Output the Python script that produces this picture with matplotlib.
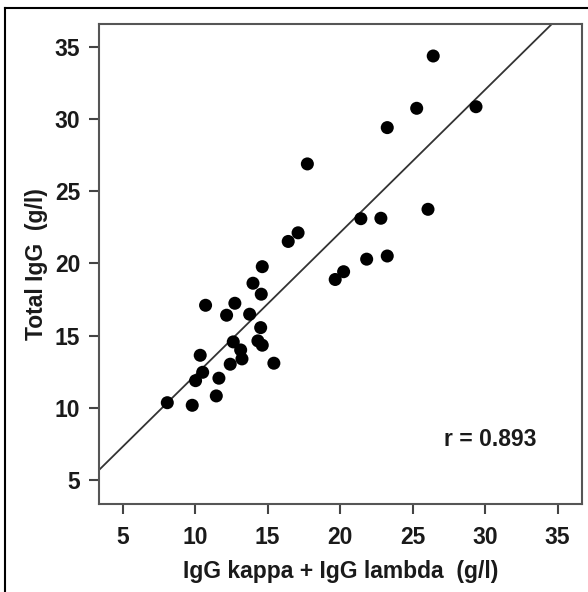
import matplotlib
matplotlib.use("Agg")
import matplotlib.pyplot as plt
from matplotlib.lines import Line2D

plt.rcParams['font.family'] = ['Liberation Sans', 'DejaVu Sans']

# data
kappa_lambda = [26.42, 25.28, 29.37, 23.25, 17.74, 21.43, 22.81, 26.06, 17.10, 16.42,
                20.24, 19.66, 21.83, 23.25, 14.63, 13.99, 14.56, 10.72, 12.74, 12.17,
                13.76, 14.52, 12.63, 14.33, 14.63, 13.14, 13.23, 12.42, 10.35, 15.43,
                10.52, 10.03, 11.64, 11.46, 8.08, 9.80]
total_igg = [34.40, 30.77, 30.88, 29.43, 26.91, 23.11, 23.14, 23.76, 22.13, 21.53,
             19.43, 18.89, 20.30, 20.52, 19.78, 18.63, 17.87, 17.10, 17.24, 16.41,
             16.48, 15.55, 14.56, 14.63, 14.33, 14.00, 13.38, 13.01, 13.63, 13.08,
             12.45, 11.87, 12.04, 10.81, 10.34, 10.16]
fit_intercept = 2.33
fit_slope = 0.991
r_value = 0.893
ticks = [5, 10, 15, 20, 25, 30, 35]
x_label = "IgG kappa + IgG lambda  (g/l)"
y_label = "Total IgG  (g/l)"

fig = plt.figure(figsize=(5.88, 5.92), dpi=100)
ax = fig.add_axes([99/588, 88/592, (581.7-99)/588, (504-24)/592])

ax.scatter(kappa_lambda, total_igg, s=88, color='black', edgecolors='none', zorder=3)
ax.axline((0, fit_intercept), slope=fit_slope, color='#333333', lw=1.3, zorder=2)

ax.set_xlim(3.37, 36.66)
ax.set_ylim(3.31, 36.62)
ax.set_xticks(ticks)
ax.set_yticks(ticks)
txtc = '#1a1a1a'
fs = 16.5
ax.tick_params(direction='out', length=7.5, width=1.5, color='#444444',
               labelsize=fs, labelcolor=txtc)
ax.tick_params(axis='x', pad=8)
ax.tick_params(axis='y', pad=6)
for lab in ax.get_xticklabels() + ax.get_yticklabels():
    lab.set_fontweight('bold')
for sp in ax.spines.values():
    sp.set_linewidth(1.5)
    sp.set_color('#555555')

ax.set_xlabel(x_label, fontsize=fs, fontweight='bold', color=txtc, labelpad=8)
ax.set_ylabel(y_label, fontsize=fs, fontweight='bold', color=txtc, labelpad=5)

ax.text(0.906, 0.135, f"r = {r_value}", transform=ax.transAxes, ha='right', va='center',
        fontsize=fs, fontweight='bold', color=txtc)

# outer frame (top and left edges)
fig.add_artist(Line2D([5/588, 1], [1 - 8/592, 1 - 8/592], transform=fig.transFigure,
                      color='black', lw=1.5))
fig.add_artist(Line2D([5/588, 5/588], [0, 1 - 8/592], transform=fig.transFigure,
                      color='black', lw=1.5))

fig.savefig("out.png", dpi=100)
